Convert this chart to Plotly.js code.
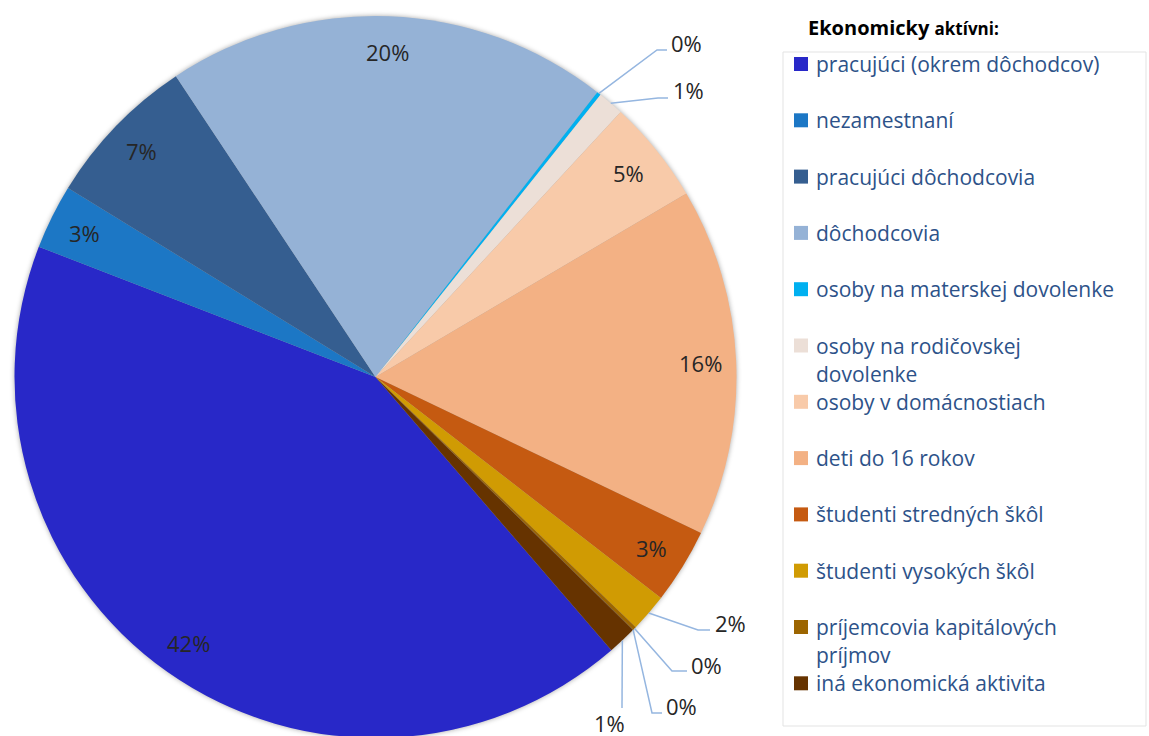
<!DOCTYPE html>
<html>
<head>
<meta charset="utf-8">
<script src="https://cdn.plot.ly/plotly-3.0.1.min.js"></script>
<style>
html, body { margin:0; padding:0; overflow:hidden; background:#fff; }
#chart { width:1149px; height:742px; }
</style>
</head>
<body>
<div id="chart"></div>
<script>
// ---- data ----
const categories = [
  "pracujúci (okrem dôchodcov)",
  "nezamestnaní",
  "pracujúci dôchodcovia",
  "dôchodcovia",
  "osoby na materskej dovolenke",
  "osoby na rodičovskej dovolenke",
  "osoby v domácnostiach",
  "deti do 16 rokov",
  "študenti stredných škôl",
  "študenti vysokých škôl",
  "príjemcovia kapitálových príjmov",
  "nezistená",
  "iná ekonomická aktivita"
];
const shares = [42.2, 2.9, 6.9, 19.85, 0.18, 1.17, 4.63, 15.6, 3.37, 1.7, 0.15, 0.03, 1.3];
const sliceColors = ["#2828c8", "#1c77c5", "#355e90", "#95b2d6", "#00b0f0", "#ecdfd7",
                     "#f8caa9", "#f3b184", "#c55a11", "#d09b03", "#9c6500", "#7a4a00", "#663300"];
const legendHidden = [11];          // entry removed from the legend in the original
const legendTitle = "Ekonomicky";
const legendTitle2 = "aktívni:";

// ---- geometry / style ----
const W = 1149, H = 742;
const CX = 375.5, CY = 377, R = 361;
const ROT = 139.2;
const insideIdx = [0, 1, 2, 3, 6, 7, 8];
const callouts = {
  4:  {elbow:[657,50],  end:[667,50],  txt:[669,43],  anchor:'left'},
  5:  {elbow:[658,98],  end:[668,98],  txt:[671,90],  anchor:'left'},
  9:  {elbow:[698,630], end:[710,630], txt:[713,623], anchor:'left'},
  10: {elbow:[672,671], end:[687,671], txt:[689,665], anchor:'left'},
  11: {elbow:[652,713], end:[662,713], txt:[664,706], anchor:'left'},
  12: {elbow:null,      end:[622,708], txt:[609,723], anchor:'center'}
};
const FONT = "'Open Sans', Lato, sans-serif";
const px = x => x / W;
const py = y => 1 - y / H;

const total = shares.reduce((a, b) => a + b, 0);
const pct = shares.map(v => Math.round(v / total * 100) + '%');

// mid angles (deg, clockwise from 12 o'clock)
const mids = [];
let cum = 0;
shares.forEach(v => {
  mids.push(ROT + (cum + v / 2) / total * 360);
  cum += v;
});
const polar = (ang, r) => {
  const a = ang * Math.PI / 180;
  return [CX + r * Math.sin(a), CY - r * Math.cos(a)];
};

const annotations = [];
const shapes = [];
const labelFont = {family:FONT, size:22, color:'#262626'};

// inside labels
insideIdx.forEach(i => {
  const p = polar(mids[i], R * 0.9);
  annotations.push({
    xref:'paper', yref:'paper', x:px(p[0]), y:py(p[1]),
    xanchor:'center', yanchor:'middle', showarrow:false,
    text:pct[i], font:labelFont
  });
});

// callout labels with leader lines
Object.keys(callouts).forEach(k => {
  const i = +k, c = callouts[k];
  const s = polar(mids[i], R);
  let path = `M ${px(s[0])},${py(s[1])}`;
  if (c.elbow) path += ` L ${px(c.elbow[0])},${py(c.elbow[1])}`;
  path += ` L ${px(c.end[0])},${py(c.end[1])}`;
  shapes.push({type:'path', xref:'paper', yref:'paper', path:path,
               line:{color:'#95b6e0', width:1.5}});
  annotations.push({
    xref:'paper', yref:'paper', x:px(c.txt[0]), y:py(c.txt[1]),
    xanchor:c.anchor, yanchor:'middle', showarrow:false,
    text:pct[i], font:labelFont
  });
});

// custom legend
shapes.push({type:'rect', xref:'paper', yref:'paper',
  x0:px(783), x1:px(1146), y0:py(52), y1:py(726),
  line:{color:'#e3e3e3', width:1}, fillcolor:'rgba(0,0,0,0)'});
annotations.push({
  xref:'paper', yref:'paper', x:px(806), y:py(28), xanchor:'left', yanchor:'middle',
  showarrow:false,
  text:`<b>${legendTitle}</b> <b><span style="font-size:17px">${legendTitle2}</span></b>`,
  font:{family:FONT, size:20, color:'#000'}
});
function wrap(s, n) {
  if (s.length <= n) return [s];
  const cut = s.lastIndexOf(' ', n);
  return [s.slice(0, cut), s.slice(cut + 1)];
}
let k = 0;
categories.forEach((name, i) => {
  if (legendHidden.includes(i)) return;
  const yc = 64 + k * 56.3;
  shapes.push({type:'rect', xref:'paper', yref:'paper',
    x0:px(794), x1:px(808), y0:py(yc - 7), y1:py(yc + 7),
    line:{width:0}, fillcolor:sliceColors[i]});
  wrap(name, 28).forEach((line, j) => {
    annotations.push({
      xref:'paper', yref:'paper', x:px(814), y:py(yc + j * 28),
      xanchor:'left', yanchor:'middle', showarrow:false,
      text:line, font:{family:FONT, size:21, color:'#2d5289'}
    });
  });
  k++;
});

const trace = {
  type:'pie',
  labels:categories,
  values:shares,
  sort:false,
  direction:'clockwise',
  rotation:ROT,
  textinfo:'none',
  hoverinfo:'label+percent',
  marker:{colors:sliceColors, line:{width:0}},
  domain:{x:[px(CX - R), px(CX + R)], y:[py(CY + R), py(CY - R)]},
  showlegend:false
};

Plotly.newPlot('chart', [trace], {
  width:W, height:H,
  margin:{l:0, r:0, t:0, b:0},
  paper_bgcolor:'#fff',
  showlegend:false,
  annotations:annotations,
  shapes:shapes
}, {displayModeBar:false, staticPlot:true}).then(() => {
  const pl = document.querySelector('.pielayer');
  if (pl) pl.style.filter = 'drop-shadow(0px 0px 2.5px rgba(0,0,0,0.35))';
});
</script>
</body>
</html>
